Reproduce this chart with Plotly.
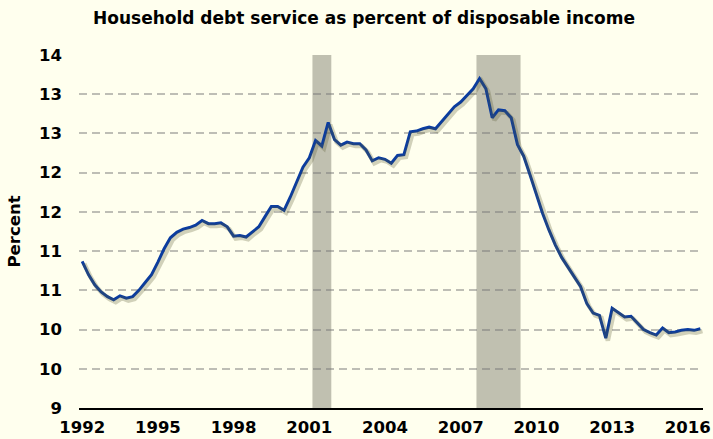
import pandas as pd
import plotly.graph_objects as go

# Household debt service ratio, quarterly, 1992Q1 - 2016Q3 (percent)
first_quarter = "1992Q1"
last_quarter = "2016Q3"
debt_service = [
    10.87, 10.70, 10.57, 10.48, 10.42, 10.38, 10.43, 10.40, 10.42, 10.50,
    10.60, 10.70, 10.86, 11.03, 11.17, 11.24, 11.28, 11.30, 11.33, 11.39,
    11.35, 11.35, 11.36, 11.31, 11.19, 11.20, 11.18, 11.25, 11.31, 11.44,
    11.57, 11.57, 11.52, 11.69, 11.88, 12.07, 12.19, 12.41, 12.34, 12.64,
    12.42, 12.35, 12.39, 12.37, 12.37, 12.29, 12.15, 12.19, 12.17, 12.12,
    12.22, 12.23, 12.52, 12.53, 12.56, 12.58, 12.56, 12.65, 12.75, 12.84,
    12.90, 12.98, 13.07, 13.20, 13.07, 12.70, 12.80, 12.79, 12.70, 12.36,
    12.21, 11.97, 11.72, 11.48, 11.27, 11.08, 10.92, 10.80, 10.68, 10.55,
    10.33, 10.21, 10.18, 9.89, 10.27, 10.21, 10.16, 10.17, 10.08, 10.00,
    9.96, 9.93, 10.02, 9.96, 9.97, 9.99, 10.00, 9.99, 10.01,
]

# Recessions (first and last quarter of each)
recession_start = ["2001Q2", "2007Q4"]
recession_end = ["2001Q4", "2009Q2"]

# Axis ticks
x_tick_years = ["1992", "1995", "1998", "2001", "2004", "2007", "2010", "2013", "2016"]
y_tick_values = [9.0, 9.5, 10.0, 10.5, 11.0, 11.5, 12.0, 12.5, 13.0, 13.5]
y_tick_labels = ["9", "10", "10", "11", "11", "12", "12", "13", "13", "14"]

quarters = pd.period_range(first_quarter, last_quarter, freq="Q").to_timestamp()
half_quarter = pd.Timedelta(days=45)

BG = "#FFFFEE"
LINE = "#0A3CA0"
FONT = "DejaVu Sans"
LABEL_SIZE = 16.5

x_range = [pd.Timestamp("1991-11-16"), pd.Timestamp("2016-08-08")]
y_range = [9.0, 13.5]
# Shadow axes: same scales, nudged so the copy sits a couple of pixels lower right
shadow_shift_x = pd.Timedelta(days=30)
shadow_shift_y = 0.03

fig = go.Figure()

fig.add_trace(go.Scatter(
    x=quarters, y=debt_service, mode="lines",
    line=dict(color="rgba(90,90,50,0.28)", width=4.5),
    xaxis="x2", yaxis="y2", hoverinfo="skip", showlegend=False,
))
fig.add_trace(go.Scatter(
    x=quarters, y=debt_service, mode="lines",
    line=dict(color=LINE, width=3),
    showlegend=False,
))

for s, e in zip(recession_start, recession_end):
    x0 = pd.Period(s, freq="Q").to_timestamp() - half_quarter
    x1 = pd.Period(e, freq="Q").to_timestamp() + half_quarter
    fig.add_shape(
        type="rect", xref="x", yref="paper", x0=x0, x1=x1, y0=0, y1=1,
        fillcolor="#C0C0B0", line=dict(width=0), layer="below",
    )

fig.update_layout(
    width=713, height=439,
    margin=dict(l=79, r=10, t=55, b=31),
    paper_bgcolor=BG, plot_bgcolor=BG,
    font=dict(family=FONT, color="black"),
    title=dict(
        text="Household debt service as percent of disposable income",
        font=dict(family=FONT, size=17, weight="bold", color="black"),
        x=364 / 713, xanchor="center", xref="container",
        y=1 - 18 / 439, yanchor="middle", yref="container",
    ),
    xaxis=dict(
        type="date", range=x_range,
        tickvals=[pd.Timestamp(f"{y}-01-01") for y in x_tick_years],
        ticktext=x_tick_years,
        tickfont=dict(family=FONT, size=LABEL_SIZE, weight="bold", color="black"),
        showgrid=False, zeroline=False,
        showline=True, linecolor="black", linewidth=1.5,
        ticks="", ticklabelstandoff=3, automargin=False,
    ),
    yaxis=dict(
        range=y_range,
        tickvals=y_tick_values, ticktext=y_tick_labels,
        tickfont=dict(family=FONT, size=LABEL_SIZE, weight="bold", color="black"),
        showgrid=True, gridcolor="rgba(120,120,120,0.48)", gridwidth=2,
        griddash="8px,5px", zeroline=False, showline=False,
        ticks="", ticklabelstandoff=16, automargin=False,
        title=dict(text="Percent", standoff=14,
                   font=dict(family=FONT, size=LABEL_SIZE, weight="bold", color="black")),
    ),
    xaxis2=dict(
        type="date", overlaying="x",
        range=[x_range[0] - shadow_shift_x, x_range[1] - shadow_shift_x],
        visible=False,
    ),
    yaxis2=dict(
        overlaying="y",
        range=[y_range[0] + shadow_shift_y, y_range[1] + shadow_shift_y],
        visible=False,
    ),
)

fig.write_html("out.html")
